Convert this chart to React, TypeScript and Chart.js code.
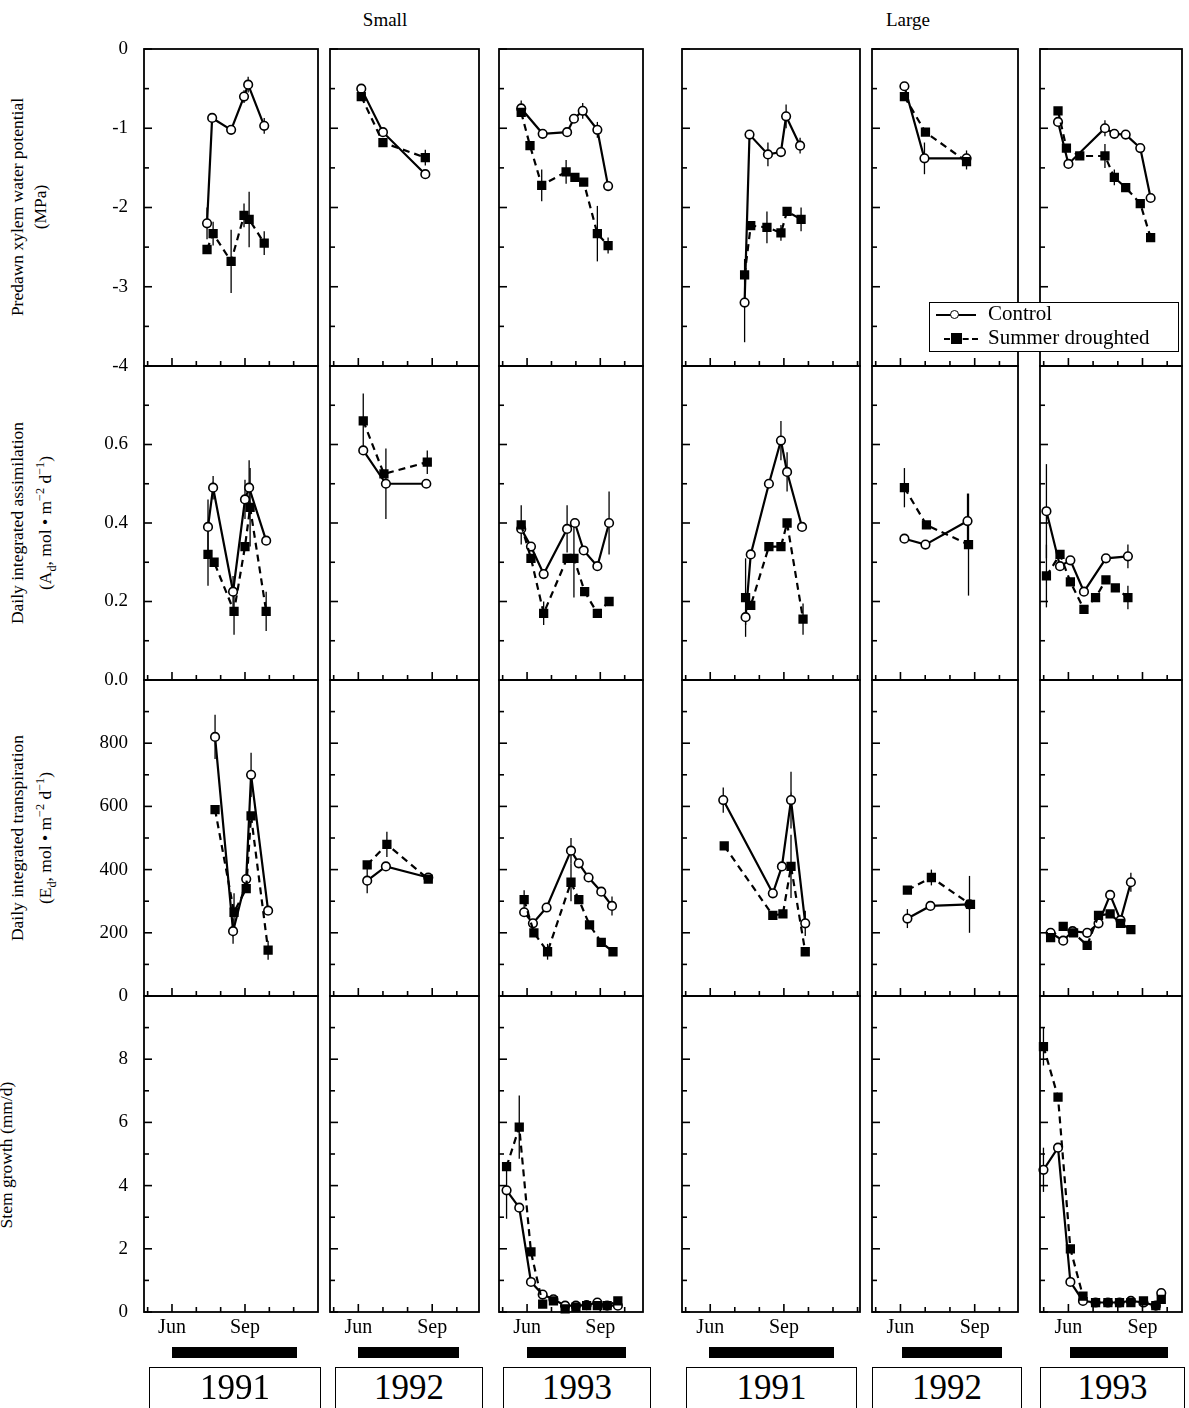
import React, { useEffect, useRef } from "react";
import { Chart, registerables } from "chart.js";
Chart.register(...registerables);

const FONT = "'Liberation Serif', 'DejaVu Serif', serif";

// columns: Small 1991,1992,1993 ; Large 1991,1992,1993
const colLeft = [144, 330, 499, 682, 872, 1040];
const colRight = [318, 479, 643, 860, 1018, 1182];
const colXMax = [12.0, 10.9, 10.75, 12.1, 10.75, 10.6];
const X_MIN = 4.85;
const rowTop = [49, 366, 680, 996];
const rowBottom = [366, 680, 996, 1312];
const yMin = [-4, 0, 0, 0];
const yMax = [0, 0.8, 1000, 10];
const yStep = [1, 0.2, 200, 2];
const yMinor = [0.5, 0.1, 100, 1];
const monthTicks = [6, 9];
const monthLabels = ["Jun", "Sep"];
const years = ["1991", "1992", "1993", "1991", "1992", "1993"];

// [month, value, error half-length]
type P = [number, number, number?][];
// Row 1: predawn xylem water potential (MPa)
const psiCtrl: P[] = [
  [[7.44, -2.2, 0.2], [7.65, -0.87], [8.43, -1.02], [8.96, -0.6, 0.08], [9.13, -0.45, 0.1], [9.79, -0.97, 0.1]],
  [[6.12, -0.5], [7.0, -1.05], [8.72, -1.58, 0.05]],
  [[5.76, -0.75, 0.1], [6.64, -1.07], [7.64, -1.05], [7.92, -0.88], [8.28, -0.78, 0.1], [8.88, -1.02, 0.1], [9.32, -1.73]],
  [[7.4, -3.2, 0.5], [7.6, -1.08], [8.35, -1.33, 0.15], [8.88, -1.3], [9.09, -0.85, 0.15], [9.66, -1.22, 0.1]],
  [[6.16, -0.47], [6.97, -1.38, 0.2], [8.67, -1.38, 0.1]],
  [[5.58, -0.92], [6.0, -1.45], [7.48, -1.0, 0.1], [7.86, -1.07], [8.32, -1.08], [8.91, -1.25], [9.33, -1.88]],
];
const psiDrought: P[] = [
  [[7.44, -2.53], [7.69, -2.33, 0.15], [8.43, -2.68, 0.4], [8.96, -2.1, 0.15], [9.17, -2.15, 0.35], [9.79, -2.45, 0.15]],
  [[6.12, -0.6], [7.0, -1.18], [8.72, -1.37, 0.1]],
  [[5.76, -0.8], [6.12, -1.22], [6.6, -1.72, 0.2], [7.6, -1.55, 0.15], [7.96, -1.62], [8.32, -1.68], [8.88, -2.33, 0.35], [9.32, -2.48, 0.1]],
  [[7.4, -2.85, 0.2], [7.65, -2.23], [8.31, -2.25, 0.2], [8.88, -2.32, 0.1], [9.13, -2.05], [9.7, -2.15, 0.15]],
  [[6.16, -0.6], [7.01, -1.05], [8.67, -1.42, 0.1]],
  [[5.58, -0.78], [5.92, -1.25], [6.46, -1.35], [7.48, -1.35, 0.15], [7.86, -1.62, 0.1], [8.32, -1.75], [8.91, -1.95], [9.33, -2.38, 0.05]],
];
// Row 2: daily integrated assimilation
const assimCtrl: P[] = [
  [[7.48, 0.39, 0.07], [7.69, 0.49, 0.03], [8.51, 0.225, 0.04], [9.0, 0.46, 0.05], [9.17, 0.49, 0.07], [9.87, 0.355]],
  [[6.2, 0.585], [7.12, 0.5, 0.09], [8.76, 0.5]],
  [[5.76, 0.385], [6.16, 0.34], [6.68, 0.27], [7.64, 0.385, 0.06], [7.96, 0.4], [8.32, 0.33], [8.88, 0.29], [9.36, 0.4, 0.08]],
  [[7.44, 0.16, 0.02], [7.65, 0.32], [8.39, 0.5], [8.88, 0.61, 0.05], [9.13, 0.53, 0.05], [9.74, 0.39]],
  [[6.16, 0.36], [7.01, 0.345], [8.71, 0.405, 0.07]],
  [[5.11, 0.43, 0.12], [5.66, 0.29], [6.08, 0.305], [6.63, 0.225], [7.52, 0.31], [8.41, 0.315, 0.03]],
];
const assimDrought: P[] = [
  [[7.48, 0.32, 0.08], [7.73, 0.3], [8.55, 0.175, 0.06], [9.0, 0.34], [9.21, 0.44, 0.1], [9.87, 0.175, 0.05]],
  [[6.2, 0.66, 0.07], [7.04, 0.525], [8.8, 0.555, 0.03]],
  [[5.76, 0.395, 0.05], [6.16, 0.31], [6.68, 0.17, 0.03], [7.64, 0.31], [7.92, 0.31, 0.1], [8.36, 0.225], [8.88, 0.17], [9.36, 0.2]],
  [[7.44, 0.21, 0.1], [7.65, 0.19], [8.39, 0.34], [8.88, 0.34], [9.13, 0.4], [9.78, 0.155, 0.04]],
  [[6.16, 0.49, 0.05], [7.05, 0.395], [8.75, 0.345, 0.13]],
  [[5.11, 0.265, 0.08], [5.66, 0.32], [6.08, 0.25], [6.63, 0.18], [7.1, 0.21], [7.52, 0.255], [7.9, 0.235], [8.41, 0.21, 0.03]],
];
// Row 3: daily integrated transpiration
const transCtrl: P[] = [
  [[7.77, 820, 70], [8.51, 205, 40], [9.05, 370], [9.25, 700, 70], [9.95, 270]],
  [[6.36, 365, 40], [7.12, 410], [8.84, 375]],
  [[5.88, 265], [6.24, 230], [6.8, 280], [7.8, 460, 40], [8.12, 420], [8.52, 375], [9.04, 330], [9.48, 285, 30]],
  [[6.53, 620, 40], [8.55, 325], [8.92, 410], [9.29, 620, 90], [9.87, 230, 40]],
  [[6.28, 245, 30], [7.21, 285], [8.79, 290, 90]],
  [[5.28, 200], [5.79, 175], [6.17, 205], [6.76, 200], [7.22, 230], [7.69, 320], [8.11, 240], [8.53, 360, 30]],
];
const transDrought: P[] = [
  [[7.77, 590], [8.55, 265, 60], [9.05, 340], [9.25, 570], [9.95, 145, 30]],
  [[6.36, 415], [7.16, 480, 40], [8.84, 370]],
  [[5.88, 305, 30], [6.28, 200], [6.84, 140, 25], [7.8, 360, 60], [8.12, 305], [8.56, 225], [9.04, 170], [9.52, 140]],
  [[6.57, 475], [8.55, 255], [8.96, 260], [9.29, 410, 100], [9.87, 140]],
  [[6.28, 335], [7.25, 375, 25], [8.83, 290]],
  [[5.28, 185], [5.79, 220], [6.21, 200], [6.76, 160], [7.22, 255], [7.69, 260], [8.11, 230], [8.53, 210]],
];
// Row 4: stem growth (mm/d)
const stemCtrl: P[] = [
  [], [],
  [[5.16, 3.85, 0.9], [5.68, 3.3], [6.16, 0.95], [6.64, 0.55], [7.08, 0.4], [7.56, 0.2], [8.0, 0.2], [8.44, 0.22], [8.88, 0.3], [9.28, 0.2], [9.72, 0.2]],
  [], [],
  [[4.99, 4.5, 0.7], [5.58, 5.2], [6.08, 0.95], [6.59, 0.35], [7.1, 0.3], [7.6, 0.3], [8.07, 0.3], [8.53, 0.35], [9.04, 0.3], [9.54, 0.2], [9.76, 0.6]],
];
const stemDrought: P[] = [
  [], [],
  [[5.16, 4.6], [5.68, 5.85, 1.0], [6.16, 1.9], [6.64, 0.25], [7.08, 0.35], [7.56, 0.1], [8.0, 0.15], [8.44, 0.2], [8.88, 0.2], [9.28, 0.2], [9.72, 0.35]],
  [], [],
  [[4.99, 8.4, 0.6], [5.58, 6.8], [6.08, 2.0], [6.59, 0.5], [7.1, 0.3], [7.6, 0.3], [8.07, 0.3], [8.53, 0.3], [9.04, 0.35], [9.54, 0.2], [9.76, 0.4]],
];
const ctrlRows = [psiCtrl, assimCtrl, transCtrl, stemCtrl];
const droughtRows = [psiDrought, assimDrought, transDrought, stemDrought];

const PAD = 12;
const YAXW = 62;
const XAXH = 32;

const errPlugin = {
  id: "errbars",
  beforeDatasetsDraw(chart: any) {
    const { ctx, scales } = chart;
    ctx.save();
    ctx.strokeStyle = "#000";
    ctx.lineWidth = 1.3;
    chart.data.datasets.forEach((ds: any) => {
      (ds.errs || []).forEach((e: number | undefined, i: number) => {
        if (!e) return;
        const p = ds.data[i];
        const x = scales.x.getPixelForValue(p.x);
        ctx.beginPath();
        ctx.moveTo(x, scales.y.getPixelForValue(p.y - e));
        ctx.lineTo(x, scales.y.getPixelForValue(p.y + e));
        ctx.stroke();
      });
    });
    ctx.restore();
  },
};

const framePlugin = {
  id: "frame",
  afterDraw(chart: any, _a: any, opts: any) {
    const { ctx, chartArea: a, scales } = chart;
    const r = opts.row;
    ctx.save();
    ctx.strokeStyle = "#000";
    ctx.fillStyle = "#000";
    ctx.lineWidth = 1.8;
    ctx.strokeRect(a.left, a.top, a.right - a.left, a.bottom - a.top);
    ctx.lineWidth = 1.6;
    ctx.font = `19px ${FONT}`;
    ctx.textAlign = "right";
    ctx.textBaseline = "middle";
    const n = Math.round((yMax[r] - yMin[r]) / yMinor[r]);
    for (let i = 0; i <= n; i++) {
      const v = yMin[r] + i * yMinor[r];
      const y = scales.y.getPixelForValue(v);
      const q = v / yStep[r];
      const major = Math.abs(q - Math.round(q)) < 1e-6;
      const len = major ? 8 : 5;
      ctx.beginPath();
      ctx.moveTo(a.left, y);
      ctx.lineTo(a.left + len, y);
      ctx.stroke();
      if (opts.showY && major && !(r > 0 && i === n)) {
        const txt = r === 1 ? v.toFixed(1) : String(Math.round(v * 100) / 100);
        ctx.fillText(txt, a.left - 16, y);
      }
    }
    ctx.textAlign = "center";
    ctx.textBaseline = "top";
    ctx.font = `20px ${FONT}`;
    for (let m = 5; m <= 12; m++) {
      const x = scales.x.getPixelForValue(m);
      if (x <= a.left + 2 || x >= a.right - 2) continue;
      const len = m === 6 || m === 9 ? 8 : 5;
      ctx.beginPath();
      ctx.moveTo(x, a.bottom);
      ctx.lineTo(x, a.bottom - len);
      ctx.stroke();
    }
    if (opts.showX) {
      monthTicks.forEach((m, i) => {
        ctx.fillText(monthLabels[i], scales.x.getPixelForValue(m), a.bottom + 6);
      });
    }
    ctx.restore();
  },
};

function Panel({ row, col }: { row: number; col: number }) {
  const ref = useRef<HTMLCanvasElement>(null);
  const showY = col === 0;
  const showX = row === 3;
  const left = colLeft[col] - PAD - (showY ? YAXW : 0);
  const top = rowTop[row] - PAD;
  const width = colRight[col] - colLeft[col] + 2 * PAD + (showY ? YAXW : 0);
  const height = rowBottom[row] - rowTop[row] + 2 * PAD + (showX ? XAXH : 0);
  useEffect(() => {
    const toPts = (p: P) => p.map(([x, y]) => ({ x, y }));
    const toErr = (p: P) => p.map((q) => q[2]);
    const chart = new Chart(ref.current!, {
      type: "scatter",
      data: {
        datasets: [
          {
            label: "Summer droughted",
            data: toPts(droughtRows[row][col]),
            errs: toErr(droughtRows[row][col]),
            showLine: true,
            borderColor: "#000",
            borderWidth: 2.2,
            borderDash: [7, 5],
            pointStyle: "rect",
            pointRadius: 5,
            pointBackgroundColor: "#000",
            pointBorderColor: "#000",
            clip: false as any,
          } as any,
          {
            label: "Control",
            data: toPts(ctrlRows[row][col]),
            errs: toErr(ctrlRows[row][col]),
            showLine: true,
            borderColor: "#000",
            borderWidth: 2.2,
            pointStyle: "circle",
            pointRadius: 4.3,
            pointBackgroundColor: "#fff",
            pointBorderColor: "#000",
            pointBorderWidth: 1.6,
            clip: false as any,
          } as any,
        ],
      },
      options: {
        animation: false,
        responsive: false,
        devicePixelRatio: 1,
        layout: {
          padding: {
            left: PAD + (showY ? YAXW : 0),
            right: PAD,
            top: PAD,
            bottom: PAD + (showX ? XAXH : 0),
          },
        },
        plugins: { legend: { display: false }, tooltip: { enabled: false }, frame: { row, showX, showY } } as any,
        scales: {
          x: { type: "linear", min: X_MIN, max: colXMax[col], display: false },
          y: { min: yMin[row], max: yMax[row], display: false },
        },
      },
      plugins: [errPlugin, framePlugin],
    });
    return () => chart.destroy();
  }, [row, col]);
  return (
    <canvas
      ref={ref}
      width={width}
      height={height}
      style={{ position: "absolute", left, top, width, height }}
    />
  );
}

const sub = { fontSize: "70%" };
const yTitles: { cy: number; lines: React.ReactNode[] }[] = [
  { cy: 207, lines: ["Predawn xylem water potential", "(MPa)"] },
  {
    cy: 523,
    lines: [
      "Daily integrated assimilation",
      <span>(A<sub style={sub}>d</sub>, mol • m<sup style={sub}>−2</sup> d<sup style={sub}>−1</sup>)</span>,
    ],
  },
  {
    cy: 838,
    lines: [
      "Daily integrated transpiration",
      <span>(E<sub style={sub}>d</sub>, mol • m<sup style={sub}>−2</sup> d<sup style={sub}>−1</sup>)</span>,
    ],
  },
  { cy: 1155, lines: ["Stem growth (mm/d)"] },
];

const barLeft = [172, 358, 527, 709, 902, 1070];
const barRight = [297, 459, 626, 834, 1002, 1168];
const boxLeft = [149, 335, 503, 686, 872, 1040];
const boxRight = [321, 483, 651, 857, 1022, 1185];

export default function App() {
  const panels = [];
  for (let r = 0; r < 4; r++) for (let c = 0; c < 6; c++) panels.push(<Panel key={`${r}-${c}`} row={r} col={c} />);
  return (
    <div style={{ position: "absolute", left: 0, top: 0, width: 1189, height: 1408, background: "#fff", fontFamily: FONT, color: "#000", overflow: "hidden" }}>
      <div style={{ position: "absolute", left: 335, top: 9, width: 100, textAlign: "center", fontSize: 19 }}>Small</div>
      <div style={{ position: "absolute", left: 858, top: 9, width: 100, textAlign: "center", fontSize: 19 }}>Large</div>
      {yTitles.map((t, i) => (
        <div
          key={i}
          style={{
            position: "absolute",
            left: t.lines.length === 2 ? 31 - 200 : 20 - 200,
            top: t.cy - 25,
            width: 400,
            height: 50,
            transform: "rotate(-90deg)",
            textAlign: "center",
            fontSize: 17.5,
            lineHeight: "23px",
          }}
        >
          {t.lines.map((l, j) => (
            <div key={j}>{l}</div>
          ))}
        </div>
      ))}
      {panels}
      {barLeft.map((l, i) => (
        <div key={"b" + i} style={{ position: "absolute", left: l, top: 1347, width: barRight[i] - l, height: 11, background: "#000" }} />
      ))}
      {boxLeft.map((l, i) => (
        <div
          key={"y" + i}
          style={{
            position: "absolute",
            left: l,
            top: 1367,
            width: boxRight[i] - l - 2,
            height: 50,
            border: "1px solid #000",
            textAlign: "center",
            fontSize: 35,
            lineHeight: "40px",
          }}
        >
          {years[i]}
        </div>
      ))}
      <div style={{ position: "absolute", left: 929, top: 302, width: 248, height: 48, background: "#fff", border: "1.5px solid #000", fontSize: 21 }}>
        <div style={{ position: "absolute", left: 6, top: 11, width: 40, borderTop: "2px solid #000" }} />
        <div style={{ position: "absolute", left: 20, top: 7, width: 7, height: 7, borderRadius: "50%", border: "1.5px solid #000", background: "#fff" }} />
        <div style={{ position: "absolute", left: 58, top: -2, lineHeight: "24px" }}>Control</div>
        <div style={{ position: "absolute", left: 14, top: 35, width: 34, borderTop: "2px dashed #000" }} />
        <div style={{ position: "absolute", left: 21, top: 30, width: 11, height: 11, background: "#000" }} />
        <div style={{ position: "absolute", left: 58, top: 22, lineHeight: "24px" }}>Summer droughted</div>
      </div>
    </div>
  );
}
